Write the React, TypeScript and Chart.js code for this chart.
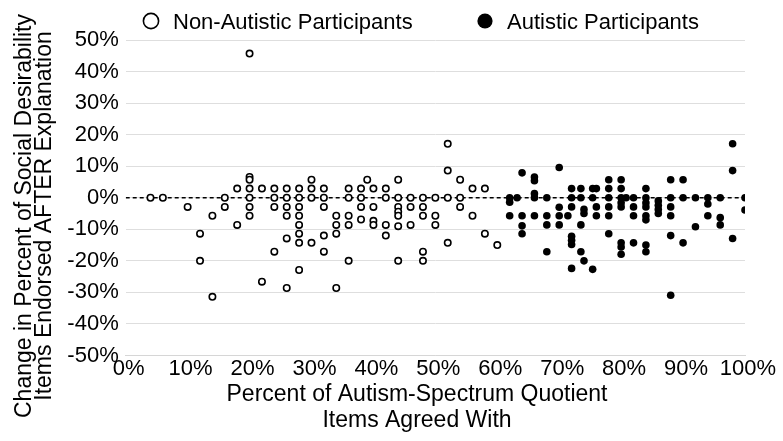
import { useEffect, useRef } from 'react';
import { Chart, registerables } from 'chart.js';

Chart.register(...registerables);

const FONT = "'Liberation Sans', Arial, Helvetica, sans-serif";

// Percent of AQ items agreed with (x) and change in social-desirability endorsement (y)
const nonAutisticAQ = [
  4, 6, 10, 12, 12, 14, 14, 16, 16, 18, 18,
  20, 20, 20, 20, 20, 20, 20, 22, 22,
  24, 24, 24, 24,
  26, 26, 26, 26, 26, 26,
  28, 28, 28, 28, 28, 28, 28, 28,
  30, 30, 30, 30,
  32, 32, 32, 32, 32,
  34, 34, 34, 34,
  36, 36, 36, 36, 36,
  38, 38, 38, 38, 39,
  40, 40, 40, 40,
  42, 42, 42, 42,
  44, 44, 44, 44, 44, 44, 44,
  46, 46, 46,
  48, 48, 48, 48, 48,
  50, 50, 50,
  52, 52, 52, 52,
  54, 54, 54,
  56, 56,
  58, 58,
  60,
];
const nonAutisticChange = [
  0, 0, -2.9, -11.4, -20, -5.7, -31.4, 0, -2.9, 2.9, -8.6,
  45.7, 6.6, 5.7, 2.9, 0, -2.9, -5.7, 2.9, -26.6,
  2.9, 0, -2.9, -17.1,
  2.9, 0, -2.9, -5.7, -12.9, -28.6,
  2.9, 0, -2.9, -5.7, -8.6, -11.4, -14.3, -22.9,
  5.7, 2.9, 0, -14.3,
  2.9, 0, -2.9, -12, -17.1,
  -5.7, -8.6, -11.4, -28.6,
  2.9, 0, -5.7, -8.6, -20,
  2.9, 0, -2.9, -6.9, 5.7,
  2.9, -2.9, -7.3, -8.6,
  2.9, 0, -8.6, -12,
  5.7, 0, -2.9, -4.4, -5.7, -9, -20,
  0, -2.9, -8.6,
  0, -2.9, -5.7, -17.1, -20,
  0, -5.7, -8.6,
  17.1, 8.6, 0, -14.3,
  5.7, 0, -2.9,
  2.9, -5.7,
  2.9, -11.4,
  -15,
];

const autisticAQ = [
  62, 62, 62, 63.2,
  64, 64, 64, 64,
  66, 66, 66, 66, 66,
  68, 68, 68, 68,
  70, 70, 70, 70, 71.4,
  72, 72, 72, 72, 72, 72, 72,
  73.5, 73.5, 73.5, 73.5,
  74, 74, 74,
  75.4, 75.4, 75.4,
  76, 76, 76,
  78, 78, 78, 78, 78, 78,
  80, 80, 80, 80, 80, 80, 80, 80, 80.8,
  82, 82, 82, 82,
  84, 84, 84, 84, 84, 84, 84, 84,
  86, 86, 86, 86,
  88, 88, 88, 88, 88, 88,
  90, 90, 90,
  92, 92,
  94, 94, 94,
  96, 96, 96,
  98, 98, 98,
  100, 100,
];
const autisticChange = [
  0, -1.4, -5.7, 0,
  7.9, -5.7, -8.9, -11.4,
  6.6, 5.4, 1.3, 0, -5.7,
  0, -5.7, -8.6, -17.1,
  9.6, -3, -5.7, -8.6, -5.7,
  2.9, 0, -2.9, -12.2, -13.5, -14.8, -22.4,
  2.9, 0, -8.6, -17.1,
  -3.7, -5, -20,
  2.9, 0, -22.7,
  2.9, -2.9, -5.7,
  5.7, 2.9, 0, -2.9, -5.7, -11.4,
  5.7, 2.9, 0, -1.6, -2.9, -14.3, -15.6, -17.9, 0,
  0, -2.9, -5.7, -14.3,
  2.9, 0, -1.6, -2.9, -5.7, -7, -15, -17.1,
  -1, -2.4, -3.7, -5,
  5.7, 0, -2.9, -5.7, -12, -30.9,
  5.7, 0, -14.3,
  0, -9.2,
  0, -2, -5.7,
  0, -6.3, -8.6,
  17.1, 8.6, -12.9,
  0, -3.9,
];

const xRange = [0, 100];
const yRange = [-50, 50];
const baselineValue = 0;

const seriesLabels = ['Non-Autistic Participants', 'Autistic Participants'];
const yTitle = ['Change in Percent of Social Desirability', 'Items Endorsed AFTER Explanation'];
const xTitle = ['Percent of Autism-Spectrum Quotient', 'Items Agreed With'];

const toPoints = (xs: number[], ys: number[]) => xs.map((x, i) => ({ x, y: ys[i] }));

// Legend row plus both two-line axis titles, drawn on top of the chart
const overlay = {
  id: 'overlay',
  afterDraw(chart: any) {
    const { ctx } = chart;
    ctx.save();
    ctx.fillStyle = '#000';
    ctx.strokeStyle = '#000';

    // legend
    ctx.font = `22px ${FONT}`;
    ctx.textAlign = 'left';
    ctx.textBaseline = 'alphabetic';
    const slots = [
      { cx: 151, tx: 173 },
      { cx: 485, tx: 507 },
    ];
    slots.forEach((slot, i) => {
      const ds = chart.data.datasets[i];
      ctx.beginPath();
      ctx.arc(slot.cx, 21, 7.6, 0, Math.PI * 2);
      if (ds.backgroundColor === '#ffffff') {
        ctx.lineWidth = 1.6;
        ctx.stroke();
      } else {
        ctx.fill();
      }
      ctx.fillText(ds.label, slot.tx, 28.5);
    });

    // x-axis title
    ctx.font = `23px ${FONT}`;
    ctx.textAlign = 'center';
    ctx.textBaseline = 'middle';
    xTitle.forEach((line, i) => ctx.fillText(line, 417, 395 + i * 26));

    // y-axis title, rotated to read bottom-to-top
    ctx.font = `23px ${FONT}`;
    const yLines = [
      { x: 24.6, y: 216 },
      { x: 45, y: 216 },
    ];
    yTitle.forEach((line, i) => {
      ctx.save();
      ctx.translate(yLines[i].x, yLines[i].y);
      ctx.rotate(-Math.PI / 2);
      ctx.fillText(line, 0, 0);
      ctx.restore();
    });
    ctx.restore();
  },
};

export default function App() {
  const canvasRef = useRef<HTMLCanvasElement | null>(null);

  useEffect(() => {
    const canvas = canvasRef.current;
    if (!canvas) return;
    const tickFont = { family: FONT, size: 22 };

    const chart = new Chart(canvas, {
      type: 'scatter',
      data: {
        datasets: [
          {
            label: seriesLabels[0],
            data: toPoints(nonAutisticAQ, nonAutisticChange),
            pointStyle: 'circle',
            pointRadius: 3.2,
            pointBorderWidth: 1.6,
            borderColor: '#000000',
            backgroundColor: '#ffffff',
            order: 1,
          },
          {
            label: seriesLabels[1],
            data: toPoints(autisticAQ, autisticChange),
            pointStyle: 'circle',
            pointRadius: 3.8,
            pointBorderWidth: 0,
            borderColor: '#000000',
            backgroundColor: '#000000',
            order: 0,
          },
          {
            label: 'baseline',
            type: 'line',
            data: xRange.map((x) => ({ x, y: baselineValue })),
            showLine: true,
            pointRadius: 0,
            borderColor: '#000000',
            borderWidth: 1.5,
            borderDash: [4, 3],
            fill: false,
            order: 5,
          },
        ],
      },
      options: {
        responsive: true,
        maintainAspectRatio: false,
        animation: false,
        devicePixelRatio: 1,
        layout: { padding: { top: 40, right: 38, bottom: 0, left: 0 } },
        plugins: {
          legend: { display: false },
          tooltip: { enabled: false },
        },
        scales: {
          x: {
            type: 'linear',
            min: xRange[0],
            max: xRange[1],
            afterFit: (s: any) => {
              s.height = 85.5;
            },
            ticks: {
              stepSize: 10,
              padding: 0,
              labelOffset: 3,
              color: '#000',
              font: tickFont,
              maxRotation: 0,
              callback: (v: any) => `${v}%`,
            },
            grid: { drawOnChartArea: false, drawTicks: false },
            border: { display: true, color: '#d6d6d6', width: 1 },
          },
          y: {
            type: 'linear',
            min: yRange[0],
            max: yRange[1],
            afterFit: (s: any) => {
              s.width = 125.7;
            },
            ticks: {
              stepSize: 5,
              padding: 7,
              color: '#000',
              font: tickFont,
              callback: (v: any) => (Number(v) % 10 === 0 ? `${v}%` : ''),
            },
            grid: { color: '#dedede', lineWidth: 1, drawTicks: false },
            border: { display: false },
          },
        },
      },
      plugins: [overlay],
    });

    return () => chart.destroy();
  }, []);

  return (
    <div style={{ position: 'fixed', left: 0, top: 0, width: 783, height: 441, background: '#fff' }}>
      <canvas ref={canvasRef} />
    </div>
  );
}
